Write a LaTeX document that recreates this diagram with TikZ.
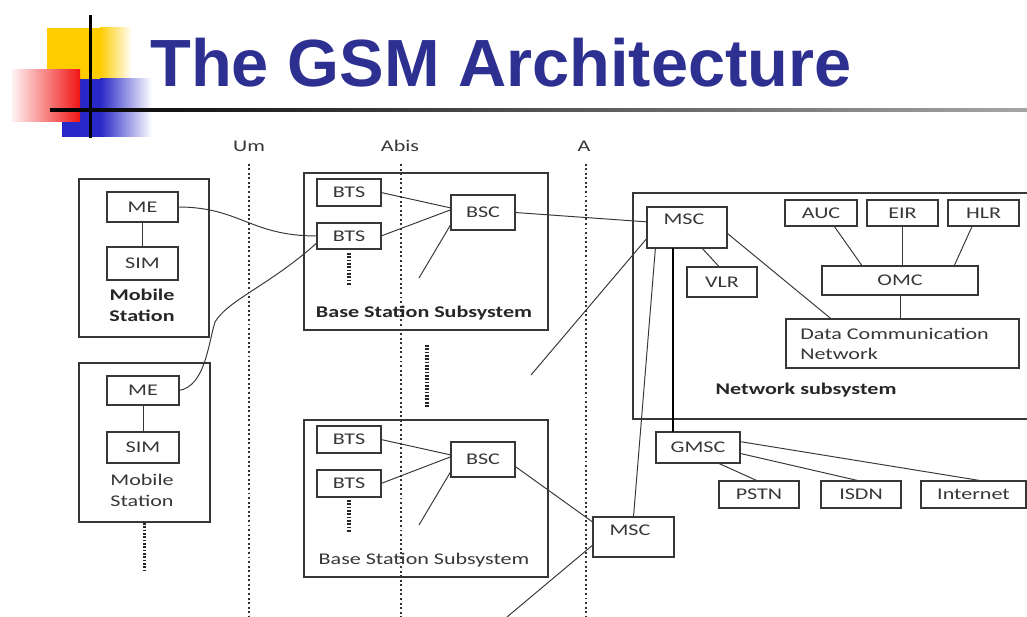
\documentclass[tikz,border=0pt]{standalone}
\usepackage{fontspec}
\setmainfont{Carlito}[FakeStretch=1.35]
\newfontfamily\titlefont{Liberation Sans}
\usetikzlibrary{calc}
\definecolor{titleblue}{RGB}{45,47,145}
\definecolor{logoyellow}{RGB}{255,204,0}
\definecolor{logored}{RGB}{240,20,20}
\definecolor{logoblue}{RGB}{40,40,200}
\definecolor{inkgray}{RGB}{55,55,55}

\begin{document}
\begin{tikzpicture}[x=0.02cm,y=-0.02cm,
  blk/.style 2 args={draw=inkgray,line width=0.7pt,minimum width=#1*0.02cm,minimum height=#2*0.02cm,inner sep=0pt,outer sep=0pt},
  txt/.style={text=inkgray,font=\fontsize{9.3}{12}\selectfont,inner sep=0pt,align=center},
  btxt/.style={txt,text=black!85,font=\fontsize{9.3}{12}\selectfont\bfseries},
  link/.style={draw=inkgray,line width=0.55pt},
  iface/.style={draw=black!80,line width=1pt,dash pattern=on 1.1pt off 1.5pt},
  cont/.style={draw=black!85,line width=2.2pt,dash pattern=on 1pt off 0.9pt}]
\useasboundingbox (0,0) rectangle (1027,617);
\fill[white] (0,0) rectangle (1027,617);

% logo
\fill[logoyellow] (47,28) rectangle (100,80);
\shade[left color=logoyellow,right color=white] (100,28) rectangle (132,80);
\fill[logoblue] (62,79) rectangle (100,137);
\shade[left color=logoblue,right color=white] (100,79) rectangle (152,137);
\shade[left color=red!5,right color=logored] (12,70) rectangle (80,122);
\fill[black] (88.5,15) rectangle (91.5,138);
\shade[left color=black,right color=black!35] (50,109) rectangle (1027,112);

\node[anchor=base west,inner sep=0pt,text=titleblue,font=\titlefont\fontsize{38}{40}\selectfont\bfseries] (title) at (150,87) {The GSM Architecture};

% interfaces
\node[txt] (um) at (249,146) {Um};
\node[txt] (abis) at (400,146) {Abis};
\node[txt] (aif) at (584,146) {A};
\draw[iface] (um.south) ++(0,12) -- (249,617);
\draw[iface] (abis.south) ++(1,12) -- (401,617);
\draw[iface] (aif.south) ++(2,12) -- (586,617);

% mobile stations
\node[blk={130}{158}] (ms1) at (144,258) {};
\node[blk={71}{30},txt] (me1) at (142.5,207) {ME};
\node[blk={71}{33},txt] (sim1) at (142.5,263.5) {SIM};
\node[btxt] (ms1lbl) at (142,305) {Mobile\\Station};
\node[blk={131}{159}] (ms2) at (144.5,442.5) {};
\node[blk={72}{29},txt] (me2) at (143,390.5) {ME};
\node[blk={72}{31},txt] (sim2) at (143,447.5) {SIM};
\node[txt] (ms2lbl) at (142,490) {Mobile\\Station};
\draw[cont] (ms2.south) ++(0,1) -- ++(0,50);

% base station subsystems
\node[blk={244}{157}] (bss1) at (426,251.5) {};
\node[blk={64}{27},txt] (bts1a) at (349,192.5) {BTS};
\node[blk={64}{26},txt] (bts1b) at (349,236) {BTS};
\draw[cont] (bts1b.south) ++(0,4) -- ++(0,32);
\node[blk={64}{35},txt] (bsc1) at (483,212.5) {BSC};
\coordinate (bsc1end) at (419,278);
\node[btxt] (bss1lbl) at (424,313) {Base Station Subsystem};
\draw[cont] (427,345) -- (427,407);
\node[blk={244}{157}] (bss2) at (426,498.5) {};
\node[blk={64}{27},txt] (bts2a) at (349,439.5) {BTS};
\node[blk={64}{27},txt] (bts2b) at (349,483.5) {BTS};
\draw[cont] (bts2b.south) ++(0,3) -- ++(0,32);
\node[blk={64}{35},txt] (bsc2) at (483,459.5) {BSC};
\coordinate (bsc2end) at (419,525);
\node[txt] (bss2lbl) at (424,560) {Base Station Subsystem};

% network subsystem
\draw[draw=inkgray,line width=0.7pt] (1027,193) -- (633,193) -- (633,419) -- (1027,419);
\node[blk={80}{41}] (msc1) at (687,227.5) {};
\node[txt] (msc1lbl) at (684,219) {MSC};
\node[blk={70}{30},txt] (vlr) at (722,282) {VLR};
\node[blk={72}{26},txt] (auc) at (821,213) {AUC};
\node[blk={71}{26},txt] (eir) at (902.5,213) {EIR};
\node[blk={71}{26},txt] (hlr) at (983.5,213) {HLR};
\node[blk={156}{29},txt] (omc) at (900,280.5) {OMC};
\node[blk={233}{49}] (dcn) at (902.5,343.5) {};
\node[txt,align=left,anchor=west,font=\fontsize{9.3}{11.5}\selectfont] (dcnlbl) at (800,344) {Data Communication\\Network};
\node[btxt] (nsslbl) at (806,390) {Network subsystem};
\coordinate (msc1end) at (531,375);

\node[blk={81}{40}] (msc2) at (633.5,537) {};
\node[txt] (msc2lbl) at (630,530) {MSC};
\coordinate (msc2end) at (507,617);
\node[blk={84}{31},txt] (gmsc) at (698,447.5) {GMSC};
\node[blk={80}{27},txt] (pstn) at (759,494.5) {PSTN};
\node[blk={80}{27},txt] (isdn) at (861,494.5) {ISDN};
\node[blk={105}{27},txt] (internet) at (973.5,494.5) {Internet};

% links
\draw[link] (me1.south) -- (sim1.north);
\draw[link] (me2.south) -- (sim2.north);
\draw[link] (me1.east) .. controls (240,207) and (250,236) .. (bts1b.west);
\draw[link] (me2.east) .. controls (205,386) and (208,345) .. (215,322) .. controls (228,300) and (270,285) .. (bts1b.192);
\draw[link] (bts1a.east) -- (bsc1.172);
\draw[link] (bts1b.east) -- (bsc1.175);
\draw[link] (bsc1.200) -- (bsc1end);
\draw[link] (bts2a.east) -- (bsc2.172);
\draw[link] (bts2b.east) -- (bsc2.175);
\draw[link] (bsc2.200) -- (bsc2end);
\draw[link] (bsc1.east) -- (msc1.172);
\draw[link] (msc1.195) -- (msc1end);
\draw[link] (msc1.213) -- (msc2.north);
\draw[link,line width=1.2pt,draw=black] (msc1.236) -- (msc1.236 |- gmsc.north);
\draw[link] (msc1.306) -- (vlr.100);
\draw[link] (msc1.352) -- (dcn.161);
\draw[link] (auc.315) -- (omc.159);
\draw[link] (eir.south) -- (eir.south |- omc.north);
\draw[link] (hlr.229) -- (omc.15);
\draw[link] (omc.south) -- (omc.south |- dcn.north);
\draw[link] (bsc2.348) -- (msc2.160);
\draw[link] (msc2.191) -- (msc2end);
\draw[link] (gmsc.322) -- (pstn.95);
\draw[link] (gmsc.352) -- (isdn.95);
\draw[link] (gmsc.8) -- (internet.55);
\end{tikzpicture}
\end{document}
